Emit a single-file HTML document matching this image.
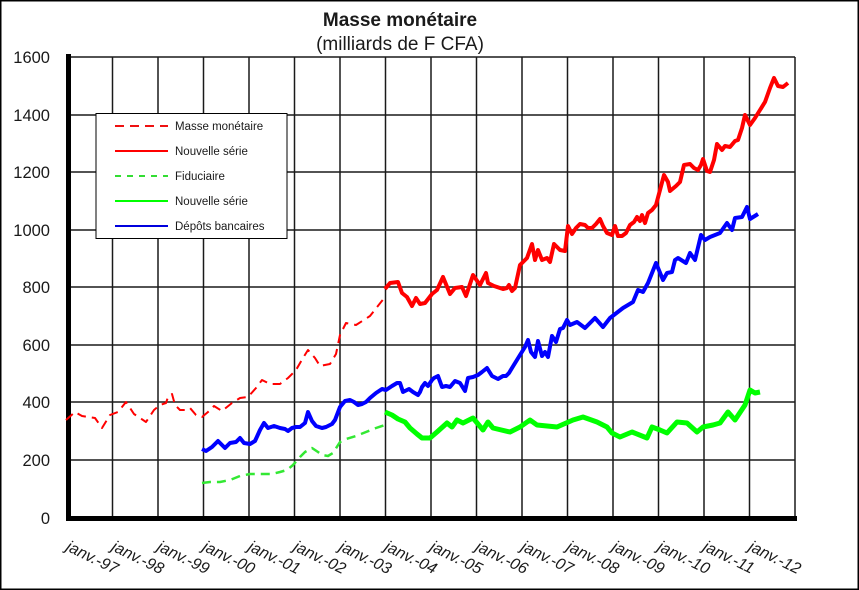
<!DOCTYPE html>
<html><head><meta charset="utf-8"><style>
body{margin:0;background:#fff}
svg{display:block}
text{font-family:"Liberation Sans",sans-serif;fill:#1a1a1a}
</style></head><body>
<svg width="859" height="590" viewBox="0 0 859 590" xmlns="http://www.w3.org/2000/svg">
<rect x="0.5" y="0.5" width="858" height="589" fill="#fff" stroke="#000" stroke-width="2"/>
<text x="400" y="26" font-size="19" font-weight="bold" text-anchor="middle">Masse monétaire</text>
<text x="400" y="50" font-size="19" text-anchor="middle">(milliards de F CFA)</text>
<g stroke="#1a1a1a" stroke-width="1.5">
<line x1="68" y1="57" x2="795" y2="57"/><line x1="68" y1="115" x2="795" y2="115"/><line x1="68" y1="172" x2="795" y2="172"/><line x1="68" y1="230" x2="795" y2="230"/><line x1="68" y1="287" x2="795" y2="287"/><line x1="68" y1="345" x2="795" y2="345"/><line x1="68" y1="402" x2="795" y2="402"/><line x1="68" y1="460" x2="795" y2="460"/>
<line x1="112.5" y1="57" x2="112.5" y2="517"/><line x1="158" y1="57" x2="158" y2="517"/><line x1="203.5" y1="57" x2="203.5" y2="517"/><line x1="249" y1="57" x2="249" y2="517"/><line x1="294.5" y1="57" x2="294.5" y2="517"/><line x1="340" y1="57" x2="340" y2="517"/><line x1="385.5" y1="57" x2="385.5" y2="517"/><line x1="431" y1="57" x2="431" y2="517"/><line x1="476.5" y1="57" x2="476.5" y2="517"/><line x1="522" y1="57" x2="522" y2="517"/><line x1="567.5" y1="57" x2="567.5" y2="517"/><line x1="613" y1="57" x2="613" y2="517"/><line x1="658.5" y1="57" x2="658.5" y2="517"/><line x1="704" y1="57" x2="704" y2="517"/><line x1="749.5" y1="57" x2="749.5" y2="517"/><line x1="795" y1="57" x2="795" y2="517"/>
</g>
<line x1="68.5" y1="54" x2="68.5" y2="521" stroke="#000" stroke-width="5"/>
<line x1="66" y1="518.5" x2="797" y2="518.5" stroke="#000" stroke-width="5"/>
<g font-size="16.5" text-anchor="end">
<text x="50" y="63">1600</text><text x="50" y="121">1400</text><text x="50" y="178">1200</text><text x="50" y="236">1000</text><text x="50" y="293">800</text><text x="50" y="351">600</text><text x="50" y="408">400</text><text x="50" y="466">200</text><text x="50" y="524">0</text>
</g>
<g font-size="16" font-style="italic">
<text transform="translate(65,550) rotate(26)">janv.-97</text>
<text transform="translate(110.5,550) rotate(26)">janv.-98</text>
<text transform="translate(156,550) rotate(26)">janv.-99</text>
<text transform="translate(201.5,550) rotate(26)">janv.-00</text>
<text transform="translate(247,550) rotate(26)">janv.-01</text>
<text transform="translate(292.5,550) rotate(26)">janv.-02</text>
<text transform="translate(338,550) rotate(26)">janv.-03</text>
<text transform="translate(383.5,550) rotate(26)">janv.-04</text>
<text transform="translate(429,550) rotate(26)">janv.-05</text>
<text transform="translate(474.5,550) rotate(26)">janv.-06</text>
<text transform="translate(520,550) rotate(26)">janv.-07</text>
<text transform="translate(565.5,550) rotate(26)">janv.-08</text>
<text transform="translate(611,550) rotate(26)">janv.-09</text>
<text transform="translate(656.5,550) rotate(26)">janv.-10</text>
<text transform="translate(702,550) rotate(26)">janv.-11</text>
<text transform="translate(747.5,550) rotate(26)">janv.-12</text>
</g>
<g fill="none" stroke-linejoin="round">
<polyline stroke="#ff0000" stroke-width="2" stroke-dasharray="9,6" points="66,420 75,412 82,416 95,418 102,428 110,415 118,412 126,402 134,414 146,422 154,410 160,405 166,403 168,397 172,394 175,405 180,410 186,410 190,408 196,415 202,417 208,412 214,406 222,411 232,403 240,398 248,397 256,388 262,380 270,384 280,384 288,378 296,370 303,358 308,350 315,358 320,366 330,364 336,354 340,335 346,323 356,325 370,316 385,297"/>
<polyline stroke="#ff0000" stroke-width="4" points="385,289 390,283 398,282 402,293 407,297 412,306 416,298 420,304 425,303 432,294 437,290 443,277 450,294 455,288 462,287 466,296 473,275 480,285 486,273 488,283 494,286 503,289 507,288 509,285 512,291 515,288 520,265 527,258 532,244 535,260 538,250 542,260 547,258 550,262 554,244 560,250 565,251 568,226 572,234 576,228 580,224 585,225 588,228 592,228 596,224 600,219 603,226 607,233 612,235 615,226 618,236 622,236 626,233 630,225 634,222 637,217 640,221 642,215 645,223 648,213 652,210 656,205 660,190 664,175 668,182 670,191 676,186 680,182 684,165 690,164 694,168 698,170 701,165 703,159 707,171 710,172 714,160 717,144 722,150 725,146 730,147 735,141 738,140 742,128 745,115 750,125 755,118 760,110 765,102 770,88 774,78 778,86 783,87 788,83"/>
<polyline stroke="#33e833" stroke-width="2.5" stroke-dasharray="9,6" points="202,483 210,482 220,482 230,480 240,476 250,474 262,474 272,474 280,472 287,470 293,465 300,457 305,452 312,448 318,452 322,455 328,456 333,453 340,442 346,439 356,436 366,432 376,428 385,425"/>
<polyline stroke="#00ff00" stroke-width="5" points="385,412 392,415 398,419 405,422 410,428 417,434 422,438 430,438 437,432 447,423 452,427 457,420 463,423 473,418 483,430 488,422 493,428 510,432 520,427 530,420 537,425 557,427 573,420 583,417 597,422 607,427 612,433 620,437 632,432 647,438 652,427 660,430 667,433 677,422 687,423 697,432 703,427 713,425 720,423 728,412 735,420 745,405 750,390 755,393 760,392"/>
<polyline stroke="#0000ff" stroke-width="4" points="202,449 206,451 212,447 218,441 225,448 230,443 236,442 240,438 244,443 250,444 255,441 260,430 264,423 268,428 274,426 280,428 285,429 288,431 292,428 296,427 300,427 305,423 308,412 312,421 316,426 322,428 326,427 332,424 335,420 340,407 345,401 350,400 354,402 358,405 362,404 366,402 370,398 376,393 382,389 386,390 392,386 397,383 400,383 403,392 409,389 413,392 418,395 420,392 422,387 425,383 428,386 432,380 434,378 438,376 442,387 446,386 450,387 455,381 460,383 465,391 468,378 473,377 478,375 482,372 487,368 492,376 498,379 503,376 506,376 509,373 512,368 520,355 525,347 528,340 531,352 535,357 538,341 542,356 545,352 548,357 552,336 556,342 560,329 563,328 567,320 570,325 577,322 585,328 595,318 603,327 610,318 623,308 633,302 638,290 643,292 648,283 656,263 663,280 667,273 672,272 675,260 678,258 686,263 690,253 695,260 701,235 705,240 710,237 720,233 727,223 732,230 735,218 742,217 747,207 750,219 758,214"/>
</g>
<rect x="96" y="113.5" width="191" height="125" fill="#fff" stroke="#000" stroke-width="1"/>
<g fill="none" stroke-width="2">
<line x1="115" y1="126" x2="168" y2="126" stroke="#ee1111" stroke-dasharray="9,6"/>
<line x1="115" y1="151" x2="168" y2="151" stroke="#ff0000"/>
<line x1="115" y1="176" x2="168" y2="176" stroke="#33dd33" stroke-dasharray="6,6"/>
<line x1="115" y1="201" x2="168" y2="201" stroke="#00ff00"/>
<line x1="115" y1="226" x2="168" y2="226" stroke="#0000dd"/>
</g>
<g font-size="11.5">
<text x="175" y="130">Masse monétaire</text>
<text x="175" y="155">Nouvelle série</text>
<text x="175" y="180">Fiduciaire</text>
<text x="175" y="205">Nouvelle série</text>
<text x="175" y="230">Dépôts bancaires</text>
</g>
</svg>
</body></html>
